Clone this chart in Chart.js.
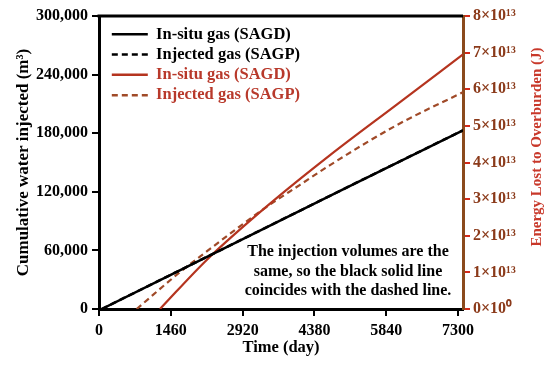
<!DOCTYPE html>
<html>
<head>
<meta charset="utf-8">
<script src="https://cdn.jsdelivr.net/npm/chart.js@4.4.0/dist/chart.umd.min.js"></script>
<style>
html, body { margin: 0; padding: 0; background: #fff; }
#wrap { width: 550px; height: 366px; }
</style>
</head>
<body>
<div id="wrap"><canvas id="chart"></canvas></div>
<script>
// cumulative water injected (m3) - same for both cases
let waterDays = [55, 1478, 4900, 7400];
let waterVolume = [0, 35500, 121000, 183000];

// energy lost to overburden (J), right axis
let sagdDays = [1240, 2190, 3410, 4697, 6053, 7400];
let sagdEnergy = [0, 1.34e13, 2.80e13, 4.20e13, 5.58e13, 6.95e13];
let sagpDays = [766, 1613, 2052, 3410, 4087, 4697, 6053, 7400];
let sagpEnergy = [0, 0.97e13, 1.43e13, 2.79e13, 3.39e13, 3.93e13, 5.02e13, 5.92e13];

let seriesNames = ['In-situ gas (SAGD)', 'Injected gas (SAGP)', 'In-situ gas (SAGD)', 'Injected gas (SAGP)'];
let timeTicks = [0, 1460, 2920, 4380, 5840, 7300];
let noteLines = ['The injection volumes are the', 'same, so the black solid line', 'coincides with the dashed line.'];

let legendColors = ['#000', '#000', '#b8392b', '#b8392b'];

function pts(xs, ys){
    return xs.map((x, i) => ({x: x, y: ys[i]}));
}

Chart.defaults.font.family = '"Liberation Serif", "Times New Roman", serif';
Chart.defaults.font.weight = 'bold';
Chart.defaults.font.size = 16;
Chart.defaults.color = '#000';

// frame top line, note text and the right title (reads bottom to top)
let extras = {
    id: 'extras',
    afterLayout(chart){
        // legend sits inside the plot, top left
        chart.legend.left = chart.chartArea.left + 9;
        chart.legend.top = chart.chartArea.top;
    },
    afterDraw(chart){
        let ctx = chart.ctx;
        let a = chart.chartArea;
        ctx.save();
        ctx.strokeStyle = '#000';
        ctx.lineWidth = 3;
        ctx.beginPath();
        ctx.moveTo(a.left - 1.5, a.top);
        ctx.lineTo(a.right, a.top);
        ctx.stroke();

        ctx.fillStyle = '#000';
        ctx.font = 'bold 16px "Liberation Serif"';
        ctx.textAlign = 'center';
        ctx.textBaseline = 'middle';
        noteLines.forEach((t, i) => ctx.fillText(t, a.left + 249, a.bottom - 57 + i * 19.5));

        ctx.translate(chart.width - 13, 147);
        ctx.rotate(-Math.PI / 2);
        ctx.fillStyle = '#c8382a';
        ctx.font = 'bold 15px "Liberation Serif"';
        ctx.fillText('Energy Lost to Overburden (J)', 0, 0);
        ctx.restore();
    }
};

new Chart(document.getElementById('chart'), {
    type: 'line',
    data: {
        datasets: [
            {label: seriesNames[0], data: pts(waterDays, waterVolume), yAxisID: 'y',
             borderColor: '#000', borderWidth: 2.5, pointRadius: 0},
            {label: seriesNames[1], data: pts(waterDays, waterVolume), yAxisID: 'y',
             borderColor: '#000', borderWidth: 2.5, borderDash: [6, 4], pointRadius: 0},
            {label: seriesNames[2], data: pts(sagdDays, sagdEnergy), yAxisID: 'y1',
             borderColor: '#b5341f', borderWidth: 2.2, pointRadius: 0, cubicInterpolationMode: 'monotone'},
            {label: seriesNames[3], data: pts(sagpDays, sagpEnergy), yAxisID: 'y1',
             borderColor: '#a04a28', borderWidth: 2.2, borderDash: [6, 4], pointRadius: 0, cubicInterpolationMode: 'monotone'}
        ]
    },
    options: {
        responsive: true,
        maintainAspectRatio: false,
        animation: false,
        devicePixelRatio: 1,
        layout: {padding: {top: 16, left: 0, right: 0, bottom: 0}},
        plugins: {
            tooltip: {enabled: false},
            legend: {
                position: 'chartArea',
                align: 'start',
                title: {display: true, text: '', font: {size: 1}, padding: {top: 0, bottom: 5}},
                labels: {
                    usePointStyle: true,
                    pointStyle: 'line',
                    pointStyleWidth: 36,
                    boxHeight: 16.5,
                    padding: 3.8,
                    font: {size: 16.5},
                    generateLabels: chart => Chart.defaults.plugins.legend.labels.generateLabels(chart).map((item, i) => {
                        let ds = chart.data.datasets[i];
                        item.fontColor = legendColors[i];
                        item.strokeStyle = ds.borderColor;
                        item.lineWidth = 2.5;
                        item.lineDash = ds.borderDash || [];
                        return item;
                    })
                }
            }
        },
        scales: {
            x: {
                type: 'linear',
                min: 0,
                max: 7400,
                bounds: 'data',
                afterBuildTicks: s => { s.ticks = timeTicks.map(v => ({value: v})); },
                afterFit: s => { s.height = 57; },
                border: {color: '#000', width: 3},
                grid: {drawOnChartArea: false, tickColor: '#000', lineWidth: 2, tickLength: 7},
                ticks: {padding: 5, maxRotation: 0, autoSkip: false, callback: v => String(v)},
                title: {display: true, text: 'Time (day)', font: {size: 16.5}, padding: {top: 0, bottom: 8}}
            },
            y: {
                position: 'left',
                min: 0,
                max: 300000,
                afterFit: s => { s.width = 99; },
                border: {color: '#000', width: 3},
                grid: {drawOnChartArea: false, tickColor: '#000', lineWidth: 2, tickLength: 7},
                ticks: {stepSize: 60000, padding: 4, callback: v => v.toLocaleString('en-US')},
                title: {display: true, text: 'Cumulative water injected (m³)', font: {size: 17}, padding: {top: 13, bottom: 0}}
            },
            y1: {
                position: 'right',
                min: 0,
                max: 8e13,
                afterFit: s => { s.width = 87; },
                border: {color: '#8b4a1c', width: 3},
                grid: {drawOnChartArea: false, tickColor: '#d42a1a', lineWidth: 2, tickLength: 7},
                ticks: {stepSize: 1e13, padding: 3, color: '#8b3a1a',
                        callback: v => v === 0 ? '0×10⁰' : Math.round(v / 1e13) + '×10¹³'}
            }
        }
    },
    plugins: [extras]
});
</script>
</body>
</html>
